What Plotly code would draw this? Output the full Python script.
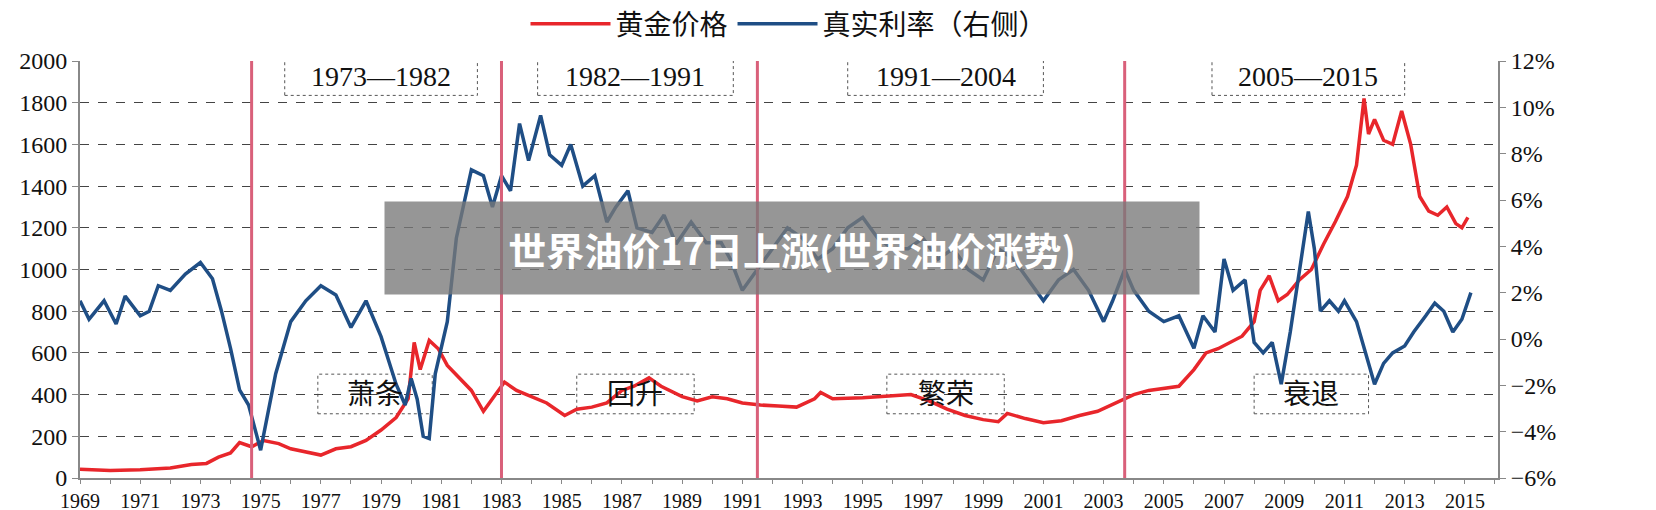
import plotly.graph_objects as go

# gold price (USD/oz), decimal years
gold_x = [1969, 1970, 1971, 1972, 1972.7, 1973.2, 1973.6, 1974.0, 1974.3, 1974.7, 1975.1, 1975.6, 1976.0,
          1976.6, 1977.0, 1977.5, 1978.0, 1978.5, 1979.0, 1979.5, 1979.9, 1980.1, 1980.3, 1980.6, 1980.9,
          1981.2, 1981.6, 1982.0, 1982.4, 1982.7, 1983.1, 1983.5, 1984.0, 1984.5, 1985.1, 1985.5, 1986.0,
          1986.5, 1987.0, 1987.4, 1987.9, 1988.3, 1989.0, 1989.5, 1990.0, 1990.5, 1991.0, 1991.6, 1992.2,
          1992.8, 1993.4, 1993.6, 1994.0, 1995.0, 1996.0, 1996.6, 1997.2, 1997.8, 1998.4, 1999.0, 1999.5,
          1999.8, 2000.4, 2001.0, 2001.6, 2002.2, 2002.8, 2003.4, 2004.0, 2004.5, 2005.0, 2005.5, 2006.0,
          2006.4, 2006.8, 2007.2, 2007.6, 2008.0, 2008.2, 2008.5, 2008.8, 2009.1, 2009.5, 2009.9, 2010.3,
          2010.7, 2011.1, 2011.4, 2011.65, 2011.8, 2012.0, 2012.3, 2012.6, 2012.9, 2013.2, 2013.5, 2013.8,
          2014.1, 2014.4, 2014.7, 2014.9, 2015.1]
gold_y = [42, 36, 40, 48, 65, 70, 100, 120, 170, 150, 180, 165, 140, 120, 110, 140, 150, 180, 230, 290,
          380, 650, 520, 660, 620, 540, 480, 420, 320, 380, 460, 420, 390, 360, 300, 330, 340, 360, 420,
          440, 480, 440, 390, 370, 390, 380, 360, 350, 345, 340, 380, 410, 380, 385, 395, 400, 370, 330,
          300, 280, 270, 310, 285, 265, 275, 300, 320, 360, 400, 420, 430, 440, 520, 600, 620, 650, 680,
          750, 900, 970, 850, 880, 950, 1000, 1120, 1230, 1350, 1500, 1820, 1650, 1720, 1620, 1600, 1760,
          1600, 1350, 1280, 1260, 1300, 1220, 1200, 1250]

# real interest rate (%), right axis
rate_x = [1969, 1969.3, 1969.8, 1970.2, 1970.5, 1971.0, 1971.3, 1971.6, 1972.0, 1972.5, 1973.0, 1973.4,
          1973.7, 1974.0, 1974.3, 1974.6, 1975.0, 1975.5, 1976.0, 1976.5, 1977.0, 1977.5, 1978.0, 1978.5,
          1979.0, 1979.5, 1979.8, 1980.0, 1980.2, 1980.4, 1980.6, 1980.8, 1981.2, 1981.5, 1982.0, 1982.4,
          1982.7, 1983.0, 1983.3, 1983.6, 1983.9, 1984.3, 1984.6, 1985.0, 1985.3, 1985.7, 1986.1, 1986.5,
          1986.8, 1987.2, 1987.5, 1988.0, 1988.4, 1988.8, 1989.3, 1989.8, 1990.3, 1990.6, 1991.0, 1991.5,
          1992.0, 1992.5, 1993.0, 1993.5, 1994.0, 1994.5, 1995.0, 1995.5, 1996.0, 1996.5, 1997.0, 1997.5,
          1998.0, 1998.5, 1999.0, 1999.5, 2000.0, 2000.5, 2001.0, 2001.5, 2002.0, 2002.5, 2003.0, 2003.3,
          2003.7, 2004.0, 2004.5, 2005.0, 2005.5, 2006.0, 2006.3, 2006.7, 2007.0, 2007.3, 2007.7, 2008.0,
          2008.3, 2008.6, 2008.9, 2009.2, 2009.5, 2009.8, 2010.0, 2010.2, 2010.5, 2010.8, 2011.0, 2011.4,
          2011.8, 2012.0, 2012.3, 2012.6, 2013.0, 2013.3, 2013.7, 2014.0, 2014.3, 2014.6, 2014.9, 2015.2]
rate_y = [1.65, 0.85, 1.65, 0.65, 1.85, 1.0, 1.2, 2.3, 2.1, 2.8, 3.3, 2.6, 1.2, -0.4, -2.2, -2.85, -4.8,
          -1.5, 0.75, 1.65, 2.3, 1.9, 0.5, 1.65, 0.1, -1.95, -2.85, -1.7, -2.6, -4.2, -4.3, -1.5, 0.75, 4.35,
          7.3, 7.05, 5.7, 7.05, 6.4, 9.3, 7.7, 9.65, 7.95, 7.5, 8.4, 6.6, 7.05, 5.05, 5.7, 6.4, 4.8, 4.6,
          5.35, 4.1, 5.05, 4.15, 4.15, 3.45, 2.1, 3.0, 3.9, 4.8, 4.35, 3.45, 3.9, 4.8, 5.25, 4.35, 3.9,
          3.9, 4.35, 3.45, 3.9, 3.0, 2.55, 3.9, 3.45, 2.55, 1.65, 2.55, 3.0, 2.1, 0.75, 1.65, 3.0, 2.1,
          1.2, 0.75, 1.0, -0.4, 1.0, 0.3, 3.45, 2.1, 2.55, -0.15, -0.6, -0.15, -1.95, 0.3, 3.0, 5.5, 3.9,
          1.2, 1.65, 1.2, 1.65, 0.75, -1.05, -1.95, -1.05, -0.6, -0.3, 0.3, 1.0, 1.55, 1.2, 0.3, 0.85, 2.0]

split_years = [1974.7, 1983.0, 1991.5, 2003.7]
period_labels = ["1973—1982", "1982—1991", "1991—2004", "2005—2015"]
period_x = [(1975.8, 1982.2), (1984.2, 1990.7), (1994.5, 2001.0), (2006.6, 2013.0)]
phase_labels = ["萧条", "回升", "繁荣", "衰退"]
phase_x = [(1976.9, 1980.7), (1985.5, 1989.4), (1995.8, 1999.7), (2008.0, 2011.8)]

serif = "Liberation Serif, Noto Sans CJK SC, serif"

fig = go.Figure()
fig.add_trace(go.Scatter(x=gold_x, y=gold_y, mode="lines", name="黄金价格",
                         line=dict(color="#e8262b", width=3.5)))
fig.add_trace(go.Scatter(x=rate_x, y=rate_y, mode="lines", name="真实利率（右侧）", yaxis="y2",
                         line=dict(color="#1f4e85", width=3.5)))

for sx in split_years:
    fig.add_shape(type="line", x0=sx, x1=sx, y0=0, y1=2000, xref="x", yref="y",
                  line=dict(color="#d9607a", width=3))

for lab, (a, b) in zip(period_labels, period_x):
    fig.add_shape(type="rect", x0=a, x1=b, y0=1835, y1=2012, xref="x", yref="y",
                  line=dict(color="#555", width=1, dash="dot"), fillcolor="white", layer="below")
    fig.add_annotation(x=(a + b) / 2, y=1925, xref="x", yref="y", text=lab, showarrow=False,
                       font=dict(family=serif, size=28, color="#111"))

for lab, (a, b) in zip(phase_labels, phase_x):
    fig.add_shape(type="rect", x0=a, x1=b, y0=308, y1=498, xref="x", yref="y",
                  line=dict(color="#555", width=1, dash="dot"), layer="below")
    fig.add_annotation(x=(a + b) / 2, y=400, xref="x", yref="y", text=lab, showarrow=False,
                       font=dict(family=serif, size=28, color="#111"))

# watermark caption
fig.add_annotation(x=(784 - 72) / 1418, y=(470 - 240) / 417, xref="paper", yref="paper",
                   text="<b>世界油价17日上涨(世界油价涨势)</b>", showarrow=False,
                   font=dict(family="Noto Sans CJK SC", size=38, color="white"),
                   bgcolor="rgba(120,120,120,0.78)", width=812, height=90, align="center")

fig.update_layout(
    width=1656, height=510,
    margin=dict(l=72, r=166, t=53, b=40, autoexpand=False),
    paper_bgcolor="white", plot_bgcolor="white",
    font=dict(family=serif, size=24, color="#111"),
    showlegend=True,
    legend=dict(orientation="h", x=0.5, xanchor="center", y=1 - 16 / 510, yanchor="middle",
                yref="container", font=dict(family=serif, size=28), itemwidth=80),
    xaxis=dict(range=[1969, 2016.1], tickvals=list(range(1969, 2017)),
               ticktext=[str(y) if y % 2 == 1 else "" for y in range(1969, 2017)],
               tickfont=dict(size=20), automargin=False, ticklabelstandoff=0,
               showgrid=False, showline=True, linecolor="#888", linewidth=2,
               ticks="outside", ticklen=4, tickcolor="#888", zeroline=False),
    yaxis=dict(range=[0, 2000], dtick=200, showgrid=True, gridcolor="#444", griddash="dash",
               gridwidth=1.2, showline=True, linecolor="#888", linewidth=2, ticks="outside",
               ticklen=6, tickcolor="#888", zeroline=False, automargin=False),
    yaxis2=dict(range=[-6, 12], dtick=2, overlaying="y", side="right", showgrid=False,
                ticksuffix="%", showline=True, linecolor="#888", linewidth=2, ticks="outside",
                ticklen=6, tickcolor="#888", zeroline=False, automargin=False),
)

fig.write_html("out.html")
